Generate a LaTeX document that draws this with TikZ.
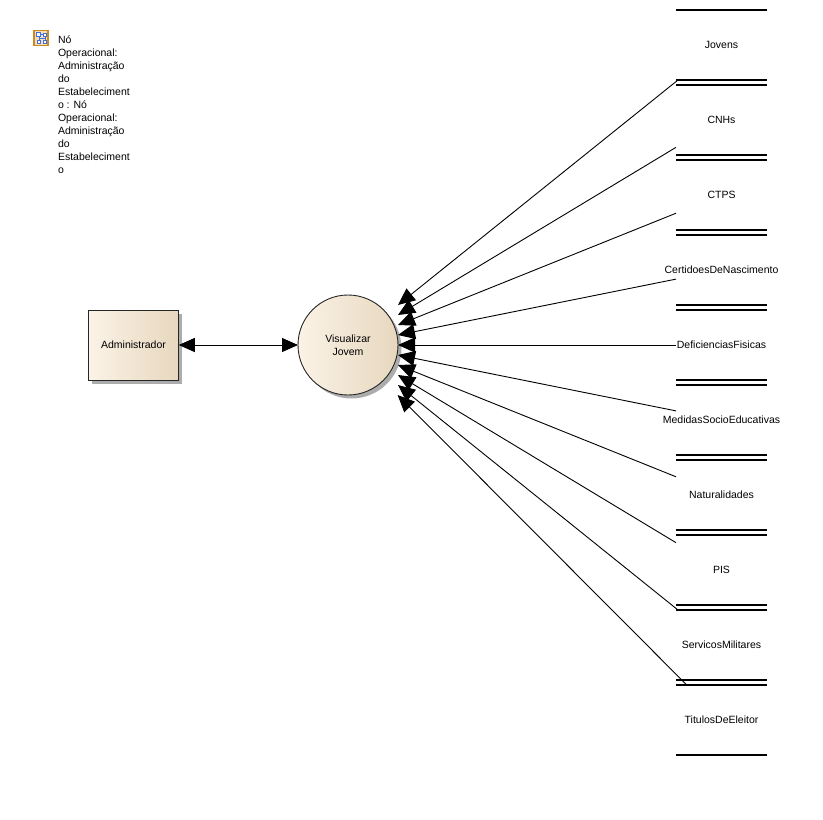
\documentclass[tikz,border=0pt]{standalone}
\usepackage{fontspec}
\setmainfont{Liberation Sans}
\usetikzlibrary{arrows.meta,shadows}
\definecolor{fillA}{HTML}{FBF3E7}
\definecolor{fillB}{HTML}{F8EFE1}
\definecolor{fillC}{HTML}{E7D7BE}
\definecolor{shadowgrey}{HTML}{ACACAC}
\definecolor{iconfill}{HTML}{F9DDB8}
\definecolor{iconedge}{HTML}{C98A1E}
\definecolor{iconblue}{HTML}{3F6FD8}
\newcommand{\storetext}[1]{\makebox[0pt][c]{#1}}
\tikzset{
  x=1pt,y=-1pt,
  every node/.style={font=\fontsize{10.5}{13}\selectfont,inner sep=0pt,outer sep=0pt},
  eabox/.style={draw=black!85,line width=0.9pt,left color=fillA,middle color=fillB,right color=fillC,
    general shadow={fill=shadowgrey,shadow xshift=3.5pt,shadow yshift=-3.5pt}},
  flowline/.style={draw=black,line width=0.9pt},
  storebox/.style={rectangle,minimum width=91pt,minimum height=70pt,
    append after command={
      (\tikzlastnode.north west) edge[storeline] (\tikzlastnode.north east)
      (\tikzlastnode.south west) edge[storeline] (\tikzlastnode.south east)}},
  storeline/.style={draw=black,line width=1.6pt},
}
\begin{document}
\begin{tikzpicture}
\useasboundingbox (0,0) rectangle (823,820);
% icon
\fill[fill=iconfill,draw=iconedge,line width=1.2pt] (34,30.5) rectangle (48,45.5);
\draw[iconblue,line width=0.8pt] (40.5,34) -- (43,34) (39,36) -- (39,40) (45,36.5) -- (45,40) (39,38.2) -- (45,38.2);
\draw[iconblue,fill=white,line width=0.8pt] (36.5,32) rectangle (40.5,36) (43,33) rectangle (46.5,36.5) (37.5,40.5) rectangle (40.5,43.5) (43.5,40.5) rectangle (46.5,43.5);
% frame label
\node[anchor=north west,align=left] (frame) at (58,36) {Nó\\Operacional:\\Administração\\do\\Estabeleciment\\o : Nó\\Operacional:\\Administração\\do\\Estabeleciment\\o};
% process + actor
\node[eabox,rectangle,minimum width=90.5pt,minimum height=70pt] (admin) at (133.5,345) {Administrador};
\node[eabox,circle,minimum size=100pt,align=center] (vis) at (348,345) {Visualizar\\Jovem};
\node[rectangle,minimum size=100pt] (visbox) at (348,345) {};
% stores
\node[storebox] (s1) at (721.5,45) {\storetext{Jovens}};
\node[storebox] (s2) at (721.5,120) {\storetext{CNHs}};
\node[storebox] (s3) at (721.5,195) {\storetext{CTPS}};
\node[storebox] (s4) at (721.5,270) {\storetext{CertidoesDeNascimento}};
\node[storebox] (s5) at (721.5,345) {\storetext{DeficienciasFisicas}};
\node[storebox] (s6) at (721.5,420) {\storetext{MedidasSocioEducativas}};
\node[storebox] (s7) at (721.5,495) {\storetext{Naturalidades}};
\node[storebox] (s8) at (721.5,570) {\storetext{PIS}};
\node[storebox] (s9) at (721.5,645) {\storetext{ServicosMilitares}};
\node[storebox] (s10) at (721.5,720) {\storetext{TitulosDeEleitor}};
% connectors
\draw[flowline,{Triangle[length=16pt,width=14pt]}-{Triangle[length=16pt,width=14pt]}] (admin.east) -- (vis.west);
\foreach \n in {1,...,10}{
  \draw[flowline,{Triangle[length=17pt,width=15pt]}-] (visbox) -- (s\n);
}
\end{tikzpicture}
\end{document}
